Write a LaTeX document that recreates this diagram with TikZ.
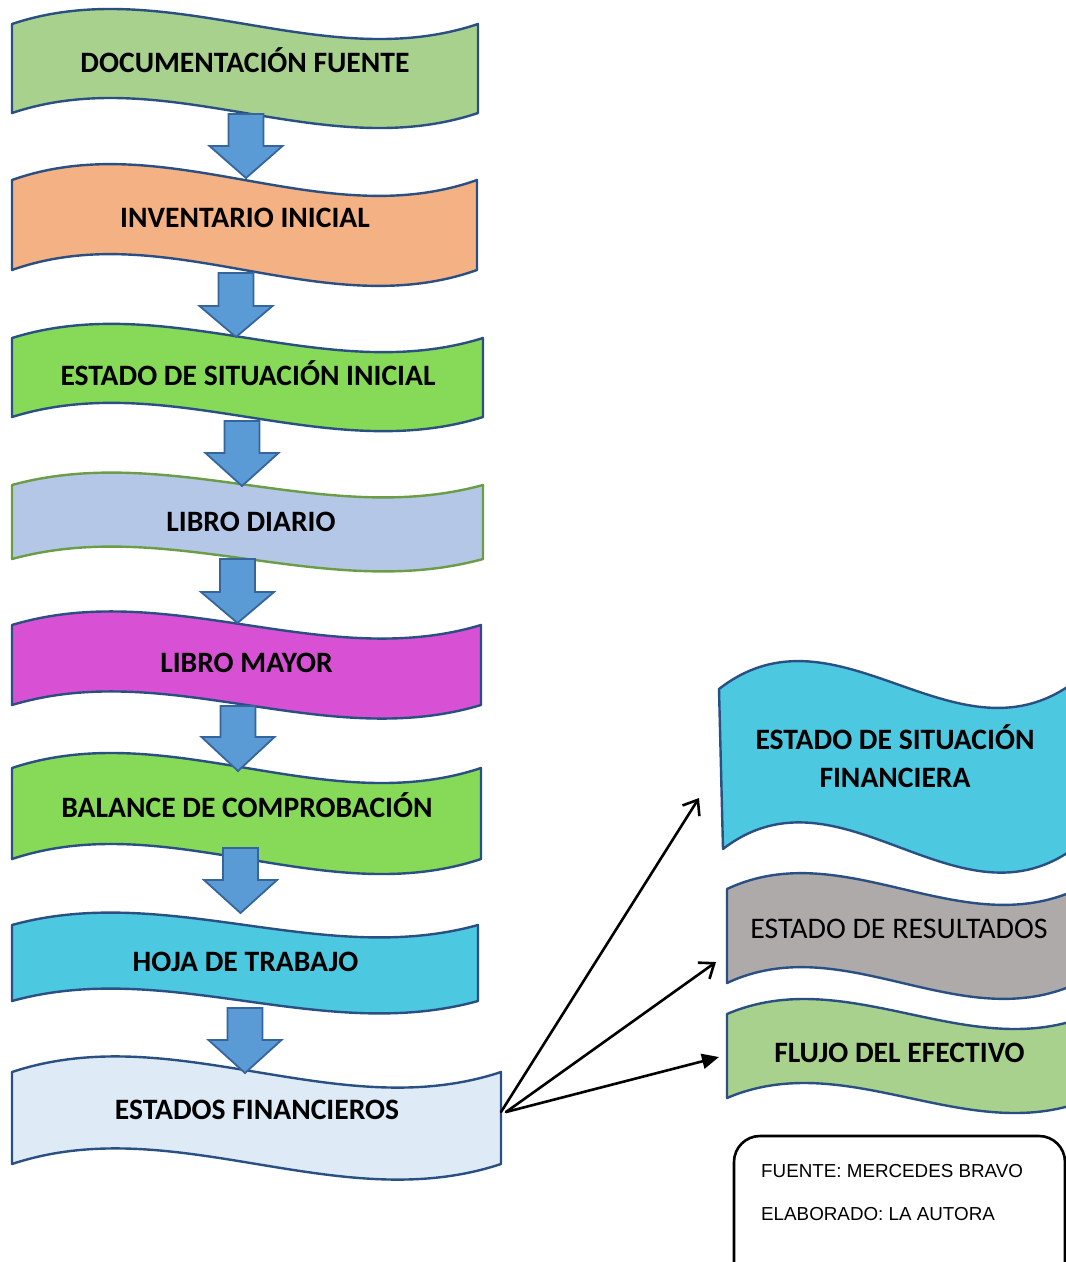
\documentclass[tikz,border=0pt]{standalone}
\usepackage{fontspec}
\setmainfont{Carlito}
\newfontfamily\notefont{Liberation Sans}
\usetikzlibrary{arrows.meta}
\definecolor{edgeblue}{HTML}{2A4F82}
\definecolor{edgegreen}{HTML}{6A9D45}
\definecolor{cLightGreen}{HTML}{A9D18E}
\definecolor{cOrange}{HTML}{F4B183}
\definecolor{cGreen}{HTML}{86DA57}
\definecolor{cLavender}{HTML}{B4C7E7}
\definecolor{cMagenta}{HTML}{D851D4}
\definecolor{cCyan}{HTML}{4CC8E0}
\definecolor{cPale}{HTML}{DEEBF7}
\definecolor{cGrey}{HTML}{AEAAAA}
\definecolor{arrowfill}{HTML}{5B9BD5}
\definecolor{arrowedge}{HTML}{35659A}
% #1 style, #2 xl top, #3 xl bottom, #4 xr, #5 top-left y, #6 top-right y, #7 bottom-left y, #8 bottom-right y, #9 k
\newcommand{\wavepath}[9]{%
  \path[#1] (#2,#5)
    .. controls ({#2+(#4-#2)/3},{#5+(#6-#5)/3-#9}) and ({#2+2*(#4-#2)/3},{#5+2*(#6-#5)/3+#9}) .. (#4,#6)
    -- (#4,#8)
    .. controls ({#3+2*(#4-#3)/3},{#7+2*(#8-#7)/3+#9}) and ({#3+(#4-#3)/3},{#7+(#8-#7)/3-#9}) .. (#3,#7)
    -- cycle;}
% #1 centre x, #2 top, #3 head start, #4 tip
\newcommand{\blockdown}[4]{%
  \path[blockarrow] ({#1-17.5},#2) -- ({#1+17.5},#2) -- ({#1+17.5},#3) -- ({#1+36.5},#3)
    -- (#1,#4) -- ({#1-36.5},#3) -- ({#1-17.5},#3) -- cycle;}
\begin{document}
\begin{tikzpicture}[x=1pt,y=-1pt,
  wave/.style={draw=edgeblue, line width=2.4pt, line join=round},
  blockarrow/.style={fill=arrowfill, draw=arrowedge, line width=1.8pt, line join=miter},
  lbl/.style={anchor=base, inner sep=0pt, font=\fontsize{29.6}{35}\selectfont\bfseries},
  lblr/.style={anchor=base, inner sep=0pt, font=\fontsize{29.9}{35}\selectfont},
  conn/.style={draw=black, line width=2.6pt, line cap=round},
  note/.style={anchor=base west, inner sep=0pt, font=\notefont\fontsize{18.8}{22}\selectfont}]
\useasboundingbox (0,0) rectangle (1066,1262);
\clip (0,0) rectangle (1066,1262);

% left column of wave boxes
\wavepath{wave, fill=cLightGreen}{12}{12}{478}{24}{24}{113}{113}{52}
\wavepath{wave, fill=cOrange}{12}{12}{477}{180}{180}{270}{270}{55}
\wavepath{wave, fill=cGreen}{12}{12}{483}{338}{338}{417}{417}{49}
\wavepath{wave, draw=edgegreen, fill=cLavender}{12}{12}{483}{485}{485}{559}{559}{43}
\wavepath{wave, fill=cMagenta}{12}{12}{481}{625}{625}{705}{705}{47}
\wavepath{wave, fill=cGreen}{12}{12}{481}{768}{768}{859}{859}{52}
\wavepath{wave, fill=cCyan}{12}{12}{478}{925}{925}{1001}{1001}{43}
\wavepath{wave, fill=cPale}{12}{12}{501}{1072}{1072}{1164}{1164}{54}

% right column of wave boxes
\wavepath{wave, fill=cCyan}{719}{723}{1077}{689}{680}{849}{846}{90}
\wavepath{wave, fill=cGrey}{727}{727}{1078}{889}{889}{983}{983}{55}
\wavepath{wave, fill=cLightGreen}{727}{727}{1092}{1014}{1014}{1098}{1098}{52}

% block arrows
\blockdown{246}{114}{146}{178}
\blockdown{236}{273}{306}{337}
\blockdown{242}{421}{453}{486}
\blockdown{237.5}{559}{592}{623}
\blockdown{238}{706}{737}{771}
\blockdown{240.5}{848}{880}{913}
\blockdown{245}{1008}{1040}{1073}

% labels
\node[lbl] (doc) at (245,72) {DOCUMENTACIÓN FUENTE};
\node[lbl] (inv) at (245,227) {INVENTARIO INICIAL};
\node[lbl] (esi) at (248,385) {ESTADO DE SITUACIÓN INICIAL};
\node[lbl] (ldi) at (251,531) {LIBRO DIARIO};
\node[lbl] (lma) at (246.5,672) {LIBRO MAYOR};
\node[lbl] (bal) at (247,817) {BALANCE DE COMPROBACIÓN};
\node[lbl] (hoj) at (245.5,971) {HOJA DE TRABAJO};
\node[lbl] (efi) at (257,1119) {ESTADOS FINANCIEROS};
\node[lbl] (esfa) at (895,749) {ESTADO DE SITUACIÓN};
\node[lbl] (esfb) at (895,787) {FINANCIERA};
\node[lblr] (eres) at (899,938) {ESTADO DE RESULTADOS};
\node[lbl] (flu) at (899.5,1062) {FLUJO DEL EFECTIVO};

% connectors
\coordinate (out1) at (501,1112);
\coordinate (out2) at (506,1112);
\coordinate (in1) at (699,798);
\coordinate (in2) at (716,962);
\coordinate (in3) at (719,1057);
\draw[conn, -{Straight Barb[length=13pt,width=20pt,line width=2.6pt]}] (out1) -- (in1);
\draw[conn, -{Straight Barb[length=13pt,width=20pt,line width=2.6pt]}] (out2) -- (in2);
\draw[conn, -{Triangle[length=17pt,width=15pt]}] (out2) -- (in3);

% source note
\draw[line width=2.6pt, rounded corners=26pt] (734,1290) -- (734,1136) -- (1065,1136) -- (1065,1290);
\node[note] (src) at (761,1177) {FUENTE: MERCEDES BRAVO};
\node[note] (aut) at (761,1220) {ELABORADO: LA AUTORA};
\end{tikzpicture}
\end{document}
